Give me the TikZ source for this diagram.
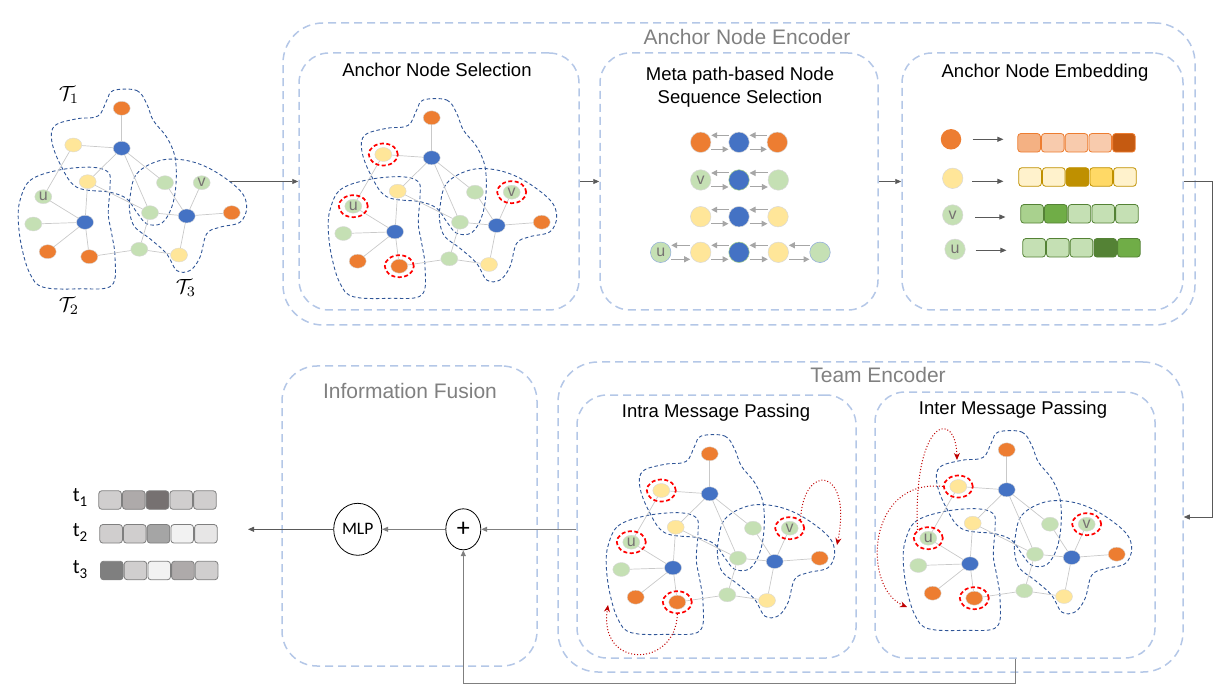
\documentclass[tikz,border=0pt]{standalone}
\usepackage{fontspec}
\setmainfont{Liberation Sans}
\newfontfamily\carl{Carlito}
\usetikzlibrary{shapes.geometric,arrows.meta}
\definecolor{cO}{HTML}{ED7D31}
\definecolor{cY}{HTML}{FFE699}
\definecolor{cB}{HTML}{4472C4}
\definecolor{cG}{HTML}{C5E0B4}
\definecolor{boxc}{HTML}{B4C7E7}
\definecolor{hullc}{HTML}{2F5597}
\definecolor{edgec}{HTML}{C9C9C9}
\definecolor{nodeln}{HTML}{D9D9D9}
\definecolor{redm}{HTML}{FF0000}
\definecolor{darkred}{HTML}{C00000}
\definecolor{arrc}{HTML}{595959}
\definecolor{arrc2}{HTML}{7F7F7F}
\definecolor{titlec}{HTML}{808080}
\definecolor{letc}{HTML}{767171}
\definecolor{metaarr}{HTML}{A6A6A6}
\definecolor{hF4B183}{HTML}{F4B183}
\definecolor{hF8CBAD}{HTML}{F8CBAD}
\definecolor{hC55A11}{HTML}{C55A11}
\definecolor{hFFF2CC}{HTML}{FFF2CC}
\definecolor{hBF9000}{HTML}{BF9000}
\definecolor{hFFD966}{HTML}{FFD966}
\definecolor{hA9D18E}{HTML}{A9D18E}
\definecolor{h70AD47}{HTML}{70AD47}
\definecolor{hC5E0B4}{HTML}{C5E0B4}
\definecolor{h548235}{HTML}{548235}
\definecolor{hD0CECE}{HTML}{D0CECE}
\definecolor{hAEAAAA}{HTML}{AEAAAA}
\definecolor{h767171}{HTML}{767171}
\definecolor{hA5A5A5}{HTML}{A5A5A5}
\definecolor{hF2F2F2}{HTML}{F2F2F2}
\definecolor{hE7E6E6}{HTML}{E7E6E6}
\definecolor{h7F7F7F}{HTML}{7F7F7F}
\definecolor{h8FAADC}{HTML}{8FAADC}
\newcommand\fTitle{\fontsize{21}{25}\selectfont}
\newcommand\fSub{\fontsize{18.5}{23.3}\selectfont}
\tikzset{
 box/.style={draw=boxc, dash pattern=on 8pt off 5pt, line width=1.5pt, rounded corners=30pt, inner sep=0pt, rectangle},
 gn/.style={ellipse, minimum width=17pt, minimum height=14pt, inner sep=0pt, draw=nodeln, line width=0.4pt},
 glab/.style={font=\fontsize{16}{16}\selectfont, text=letc},
 hull/.style={draw=hullc, dash pattern=on 3.5pt off 2.5pt, line width=0.9pt},
 redc/.style={ellipse, minimum width=29pt, minimum height=22pt, inner sep=0pt, draw=redm, line width=1.7pt, dash pattern=on 4pt off 2.5pt},
 gedge/.style={draw=edgec, line width=0.7pt},
 rarr/.style={draw=darkred, dotted, line width=1pt, -{Stealth[length=7pt,width=6pt]}},
 arr/.style={draw=arrc, line width=0.8pt, -{Triangle[length=6pt,width=5pt]}},
 arrg/.style={draw=arrc2, line width=1pt, -{Triangle[length=6pt,width=5pt]}},
 marr/.style={draw=metaarr, line width=1pt, -{Triangle[length=6pt,width=6pt]}},
 mn/.style={circle, minimum size=20.5pt, inner sep=0pt, draw=nodeln, line width=0.5pt},
 cell/.style={rectangle, minimum width=22.6pt, minimum height=18.5pt, rounded corners=3pt, inner sep=0pt, line width=0.8pt},
 ttl/.style={font=\fTitle, text=titlec},
 sub/.style={font=\fSub, text=black, align=center},
}
\newcommand\tgraph[1]{%
\draw[hull] plot[smooth cycle, tension=0.6] coordinates {(113.3,90.5) (136.7,90.5) (146.7,103.8) (153.3,120.5) (166.7,137.2) (175,157.2) (176,183.8) (171.7,207.2) (161.7,223.2) (146.7,223.8) (136.7,212.2) (126.7,198.8) (110,192.2) (76.7,187.2) (60,163.8) (51.7,140.5) (55,125.5) (76.7,118.8) (98,116) (106.7,100.5)};
\draw[hull] plot[smooth cycle, tension=0.6] coordinates {(20,200.5) (30,180.5) (56.7,170.5) (90,167.2) (108.3,172.2) (110,187.2) (108.3,213.8) (111.7,233.8) (115,257.2) (111.7,285.5) (80,288.8) (43.3,287.2) (30,273.8) (21.7,247.2) (18.3,220.5)};
\draw[hull] plot[smooth cycle, tension=0.6] coordinates {(130,197.2) (136.7,173.8) (160,160.5) (186.7,160.5) (213.3,170.5) (240,190.5) (246.7,207.2) (240,222.2) (220,227.2) (206.7,233.8) (200,257.2) (190,270.5) (176.7,270.5) (166.7,253.8) (150,238.8) (135,227.2) (130,213.8)};
\node[gn,fill=cO] (#1oT) at (121.7,108.3) {};
\node[gn,fill=cY] (#1y1) at (73.3,145) {};
\node[gn,fill=cB] (#1b1) at (121.7,148.3) {};
\node[gn,fill=cY] (#1y2) at (87.7,181.7) {};
\node[gn,fill=cG,glab] (#1u) at (43.3,196.7) {u};
\node[gn,fill=cG] (#1gA) at (165,182.7) {};
\node[gn,fill=cG,glab] (#1v) at (201.7,182.7) {v};
\node[gn,fill=cG] (#1gL) at (33.3,224) {};
\node[gn,fill=cB] (#1b2) at (85,222.3) {};
\node[gn,fill=cG] (#1gM) at (150,212.7) {};
\node[gn,fill=cB] (#1b3) at (186.7,216) {};
\node[gn,fill=cO] (#1oR) at (231.7,212.7) {};
\node[gn,fill=cO] (#1oBL) at (47.7,251.7) {};
\node[gn,fill=cO] (#1oB) at (89.3,256.7) {};
\node[gn,fill=cG] (#1gB) at (139.3,249.3) {};
\node[gn,fill=cY] (#1yB) at (179,255) {};
\draw[gedge] (#1oT) -- (#1b1);
\draw[gedge] (#1y1) -- (#1b1);
\draw[gedge] (#1y1) -- (#1u);
\draw[gedge] (#1b1) -- (#1y2);
\draw[gedge] (#1b1) -- (#1gM);
\draw[gedge] (#1b1) -- (#1gA);
\draw[gedge] (#1y2) -- (#1b2);
\draw[gedge] (#1y2) -- (#1gM);
\draw[gedge] (#1u) -- (#1b2);
\draw[gedge] (#1gL) -- (#1b2);
\draw[gedge] (#1oBL) -- (#1b2);
\draw[gedge] (#1oB) -- (#1b2);
\draw[gedge] (#1oB) -- (#1gB);
\draw[gedge] (#1gB) -- (#1gM);
\draw[gedge] (#1gB) -- (#1yB);
\draw[gedge] (#1gM) -- (#1b3);
\draw[gedge] (#1gA) -- (#1b3);
\draw[gedge] (#1v) -- (#1b3);
\draw[gedge] (#1b3) -- (#1oR);
\draw[gedge] (#1b3) -- (#1yB);
}
\newcommand\redmarks[1]{%
\node[redc] (#1ry1) at (#1y1) {};
\node[redc] (#1ru) at (#1u) {};
\node[redc] (#1roB) at (#1oB) {};
\node[redc] (#1rv) at (#1v) {};
}
\newcommand\cellrow[5]{%
\foreach \c [count=\i] in {#5} {
  \node[cell, draw=#4, fill=\c] (#1-\i) at ({#2+11.8+(\i-1)*23.7}, #3) {};
}}
\begin{document}
\begin{tikzpicture}[x=1pt,y=-1pt]
\useasboundingbox (0,0) rectangle (1223,700);

% ---------- containers
\node[box, rounded corners=40pt, minimum width=912pt, minimum height=302pt] (ae) at (739,174) {};
\node[box, minimum width=280pt, minimum height=257pt] (ans) at (439,181.5) {};
\node[box, minimum width=278pt, minimum height=257pt] (meta) at (739,181.5) {};
\node[box, minimum width=281pt, minimum height=257pt] (emb) at (1042.5,181.5) {};
\node[box, rounded corners=35pt, minimum width=255pt, minimum height=300pt] (if) at (409.5,516) {};
\node[box, rounded corners=40pt, minimum width=625pt, minimum height=310pt] (te) at (870.5,517) {};
\node[box, minimum width=279pt, minimum height=263pt] (intra) at (716.5,526.5) {};
\node[box, minimum width=280pt, minimum height=266pt] (inter) at (1015,525) {};

% ---------- titles
\node[ttl] (tae) at (747,37) {Anchor Node Encoder};
\node[sub] (tans) at (437,70) {Anchor Node Selection};
\node[sub] (tmeta) at (740,87.5) {Meta path-based Node\\Sequence Selection};
\node[sub] (temb) at (1045,73) {Anchor Node Embedding};
\node[ttl] (tif) at (410,391) {Information Fusion};
\node[ttl] (tte) at (878,375) {Team Encoder};
\node[sub] (tintra) at (716,413) {Intra Message Passing};
\node[sub] (tinter) at (1013,410) {Inter Message Passing};

% ---------- graphs
\tgraph{g}
\node (lt1) at (69,95) {\scalebox{2.05}{$\mathcal{T}_1$}};
\node (lt2) at (69,306) {\scalebox{2.05}{$\mathcal{T}_2$}};
\node (lt3) at (186,288) {\scalebox{2.05}{$\mathcal{T}_3$}};
\begin{scope}[shift={(310,9.5)}]
\tgraph{a}
\redmarks{a}
\end{scope}
\begin{scope}[shift={(588,345.5)}]
\tgraph{i}
\redmarks{i}
\end{scope}
\begin{scope}[shift={(885,341.5)}]
\tgraph{e}
\redmarks{e}
\end{scope}

% red message-passing arrows
\coordinate (ia1) at (608,605);
\coordinate (ia2) at (837,545);
\coordinate (ea1) at (957,460);
\coordinate (ea2) at (907,607);
\draw[rarr] (iroB.south) .. controls (676,668) and (598,670) .. (ia1);
\draw[rarr] (irv.north east) .. controls (803,462) and (853,466) .. (ia2);
\draw[rarr] (eru.north west) .. controls (913,418) and (956,408) .. (ea1);
\draw[rarr] (ery1.west) .. controls (866,478) and (862,588) .. (ea2);

% ---------- meta-path sequences
\node[mn,fill=cO] (m11) at (700.7,142.3) {};
\node[mn,fill=cB] (m12) at (739,142.3) {};
\node[mn,fill=cO] (m13) at (777.3,142.3) {};
\node[mn,fill=cG,glab] (m21) at (700.7,180) {v};
\node[mn,fill=cB,draw=hA9D18E] (m22) at (739,180) {};
\node[mn,fill=cG] (m23) at (778.3,180) {};
\node[mn,fill=cY] (m31) at (700.7,216.7) {};
\node[mn,fill=cB] (m32) at (739,216.7) {};
\node[mn,fill=cY] (m33) at (778,216.7) {};
\node[mn,fill=cG,glab,draw=h8FAADC] (m41) at (660.7,252.3) {u};
\node[mn,fill=cY] (m42) at (700.7,252.3) {};
\node[mn,fill=cB,draw=hA9D18E] (m43) at (739,252.3) {};
\node[mn,fill=cY] (m44) at (778.3,252.3) {};
\node[mn,fill=cG,draw=h8FAADC] (m45) at (820,252.3) {};
\foreach \a/\b in {m11/m12,m12/m13,m21/m22,m22/m23,m31/m32,m32/m33,m41/m42,m42/m43,m43/m44,m44/m45} {
  \draw[marr] ([yshift=7pt]\b.west) -- ([yshift=7pt]\a.east);
  \draw[marr] ([yshift=-7pt]\a.east) -- ([yshift=-7pt]\b.west);
}

% ---------- embeddings
\node[mn,fill=cO,draw=none] (ec1) at (951,139.3) {};
\node[mn,fill=cY] (ec2) at (952.7,178.3) {};
\node[mn,fill=cG,glab] (ec3) at (952.7,215) {v};
\node[mn,fill=cG,glab] (ec4) at (955,249.3) {u};
\cellrow{r1}{1017.3}{142.8}{cO}{hF4B183,hF8CBAD,hF8CBAD,hF8CBAD,hC55A11}
\cellrow{r2}{1018.3}{177}{hBF9000}{hFFF2CC,hFFF2CC,hBF9000,hFFD966,hFFF2CC}
\cellrow{r3}{1020.3}{213.8}{h548235}{hA9D18E,h70AD47,hC5E0B4,hC5E0B4,hC5E0B4}
\cellrow{r4}{1022.3}{247.8}{h548235}{hC5E0B4,hC5E0B4,hC5E0B4,h548235,h70AD47}
\draw[arr, shorten <=11pt, shorten >=14pt] (ec1.east) -- (ec1.east -| r1-1.west);
\draw[arr, shorten <=9pt, shorten >=15pt] ([yshift=-3pt]ec2.east) -- ([yshift=-3pt]ec2.east -| r2-1.west);
\draw[arr, shorten <=12pt, shorten >=15pt] ([yshift=-2pt]ec3.east) -- ([yshift=-2pt]ec3.east -| r3-1.west);
\draw[arr, shorten <=10pt, shorten >=16pt] ([yshift=-1pt]ec4.east) -- ([yshift=-1pt]ec4.east -| r4-1.west);

% ---------- top connectors
\coordinate (gexit) at (230,181.5);
\coordinate (cr) at (1212,181.5);
\draw[arr] (gexit) -- (ans.west);
\draw[arr] (ans.east) -- (meta.west);
\draw[arr] (meta.east) -- (emb.west);
\draw[arr] (emb.east) -- (cr) |- (te.east);

% ---------- fusion
\node[ellipse, draw, line width=0.8pt, minimum width=48pt, minimum height=52pt, inner sep=0pt, font=\carl\fontsize{17.5}{17.5}\selectfont] (mlp) at (357.7,529.3) {MLP};
\node[ellipse, draw, line width=0.8pt, minimum width=35pt, minimum height=41pt, inner sep=0pt, font=\carl\fontsize{26}{26}\selectfont] (plus) at (463.3,529.3) {+};
\coordinate (outend) at (248,529.3);
\coordinate (fb) at (1015,683);
\draw[arrg] (intra.west |- plus.east) -- (plus.east);
\draw[arrg] (plus.west) -- (mlp.east);
\draw[arr] (mlp.west) -- (outend);
\draw[arrg] (inter.south) -- (fb) -| (plus.south);

% ---------- team embeddings
\cellrow{t1}{98.3}{500}{h7F7F7F}{hD0CECE,hAEAAAA,h767171,hD0CECE,hD0CECE}
\cellrow{t2}{99.3}{533.8}{h7F7F7F}{hD0CECE,hD0CECE,hA5A5A5,hF2F2F2,hE7E6E6}
\cellrow{t3}{100}{570.5}{h7F7F7F}{h7F7F7F,hD0CECE,hF2F2F2,hAEAAAA,hD0CECE}
\node[anchor=base east, inner sep=0pt, font=\carl\fontsize{20.5}{20.5}\selectfont] (lbt1) at (87.5,501.7) {t\raisebox{-5pt}{\fontsize{15}{15}\selectfont 1}};
\node[anchor=base east, inner sep=0pt, font=\carl\fontsize{20.5}{20.5}\selectfont] (lbt2) at (87.5,536.7) {t\raisebox{-5pt}{\fontsize{15}{15}\selectfont 2}};
\node[anchor=base east, inner sep=0pt, font=\carl\fontsize{20.5}{20.5}\selectfont] (lbt3) at (87.5,573.3) {t\raisebox{-5pt}{\fontsize{15}{15}\selectfont 3}};
\end{tikzpicture}
\end{document}
